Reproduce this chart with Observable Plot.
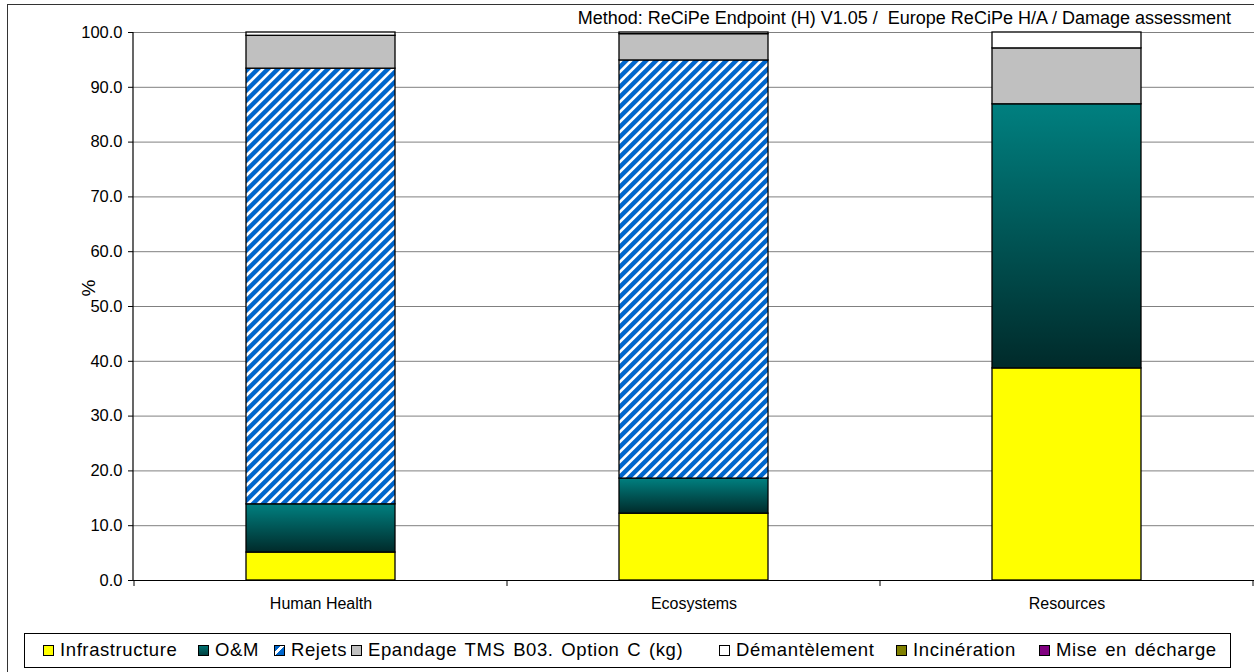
<!DOCTYPE html>
<html>
<head>
<meta charset="utf-8">
<script src="https://cdn.jsdelivr.net/npm/d3@7"></script>
<script src="https://cdn.jsdelivr.net/npm/@observablehq/plot@0.6"></script>
<style>
  body { margin: 0; background: #fff; font-family: "Liberation Sans", Arial, sans-serif; }
  #wrap { position: relative; width: 1254px; height: 672px; overflow: hidden; background: #fff; }
  #border { position: absolute; left: 7px; top: 4px; width: 1300px; height: 720px; border: 1px solid #333; }
  #chart { position: absolute; left: 0; top: 0; }
  #method { position: absolute; right: 23px; top: 8px; font-size: 18px; white-space: nowrap; color: #000; }
  #legend { position: absolute; left: 24px; top: 633px; width: 1207px; height: 35px; border: 1px solid #000; box-sizing: border-box; }
  .sw { position: absolute; top: 11px; width: 11px; height: 11px; border: 1px solid #000; box-sizing: border-box; }
  .lt { position: absolute; top: 5px; font-size: 18.5px; letter-spacing: 0.6px; word-spacing: 2px; white-space: nowrap; color: #000; }
</style>
</head>
<body>
<div id="wrap">
  <div id="border"></div>
  <div id="chart"></div>
  <div id="method">Method: ReCiPe Endpoint (H) V1.05 /&nbsp; Europe ReCiPe H/A / Damage assessment</div>
  <div id="legend"></div>
</div>
<script>
// ---- data ----
const categories = ["Human Health", "Ecosystems", "Resources"];
const series = ["Infrastructure", "O&M", "Rejets", "Epandage TMS B03. Option C (kg)", "Démantèlement", "Incinération", "Mise en décharge"];
const infrastructure = [5.1, 12.2, 38.7];
const om = [8.8, 6.4, 48.2];
const rejets = [79.5, 76.3, 0];
const epandage = [6.0, 4.8, 10.2];
const demantelement = [0.6, 0.3, 2.9];
const incineration = [0, 0, 0];
const miseEnDecharge = [0, 0, 0];
const yTicks = [0, 10, 20, 30, 40, 50, 60, 70, 80, 90, 100];

// ---- styles ----
const fills = ["#FFFF00", "url(#omGrad)", "url(#rejetsPat)", "#C0C0C0", "#FFFFFF", "#808000", "#800080"];
const swatchCss = [
  "#FFFF00",
  "linear-gradient(180deg, #007070, #004040)",
  "linear-gradient(135deg, #0066CC 0 30%, #ffffff 30% 52%, #0066CC 52%)",
  "#C0C0C0", "#FFFFFF", "#808000", "#800080"
];
const legendX = [42, 197, 273, 350, 718, 895, 1038];

const valuesBySeries = [infrastructure, om, rejets, epandage, demantelement, incineration, miseEnDecharge];
const data = [];
series.forEach((s, i) => {
  categories.forEach((c, j) => {
    const v = valuesBySeries[i][j];
    if (v > 0) data.push({ category: c, series: s, value: v });
  });
});

const W = 1254, H = 625, mL = 133, mR = 0, mT = 32, mB = 45;

const plot = Plot.plot({
  width: W, height: H,
  marginLeft: mL, marginRight: mR, marginTop: mT, marginBottom: mB,
  style: { fontFamily: "'Liberation Sans', Arial, sans-serif", fontSize: "16px", color: "#000", background: "transparent", overflow: "visible" },
  x: { domain: categories, paddingInner: 0.6, paddingOuter: 0.3, label: null },
  y: { domain: [0, 100], label: null },
  color: { type: "ordinal", domain: series, range: fills },
  marks: [
    Plot.gridY(yTicks, { stroke: "#808080", strokeOpacity: 1, strokeWidth: 1 }),
    Plot.barY(data, { x: "category", y: "value", fill: "series", stroke: "#000", strokeWidth: 1.3 }),
    Plot.ruleY([0], { stroke: "#000", strokeWidth: 1.2 }),
    Plot.axisY(yTicks, { tickFormat: d => d.toFixed(1), tickSize: 5, tickPadding: 6, fontSize: 16.5, stroke: "#000", label: null }),
    Plot.axisX({ tickSize: 0, tickPadding: 17, fontSize: 16, label: null }),
    Plot.text(["%"], { frameAnchor: "left", dx: -45, dy: -10, rotate: -90, fontSize: 19, fill: "#000" })
  ]
});

// defs: gradient & stripe pattern
const svg = d3.select(plot);
const defs = svg.insert("defs", ":first-child");
const g = defs.append("linearGradient").attr("id", "omGrad").attr("x1", 0).attr("y1", 0).attr("x2", 0).attr("y2", 1);
g.append("stop").attr("offset", 0).attr("stop-color", "#008080");
g.append("stop").attr("offset", 1).attr("stop-color", "#002A2A");
const p = defs.append("pattern").attr("id", "rejetsPat").attr("patternUnits", "userSpaceOnUse")
  .attr("width", 7.07).attr("height", 7.07).attr("patternTransform", "rotate(45)");
p.append("rect").attr("width", 7.07).attr("height", 7.07).attr("fill", "#0066CC");
p.append("rect").attr("width", 2.6).attr("height", 7.07).attr("fill", "#FFFFFF");

// axis line and category boundary ticks
const xs = plot.scale("x"), ys = plot.scale("y");
const y0 = ys.apply(0), y100 = ys.apply(100);
svg.append("line").attr("x1", mL).attr("x2", mL).attr("y1", y100).attr("y2", y0).attr("stroke", "#000").attr("stroke-width", 1.2);
const gap = (xs.step - xs.bandwidth) / 2;
const bounds = categories.map(c => xs.apply(c) - gap);
bounds.push(xs.apply(categories[categories.length - 1]) + xs.bandwidth + gap);
bounds.forEach(b => {
  svg.append("line").attr("x1", b).attr("x2", b).attr("y1", y0).attr("y2", y0 + 6).attr("stroke", "#000").attr("stroke-width", 1);
});

document.getElementById("chart").appendChild(plot);

// legend
const leg = document.getElementById("legend");
series.forEach((s, i) => {
  const sw = document.createElement("div");
  sw.className = "sw";
  sw.style.left = (legendX[i] - 24) + "px";
  sw.style.background = swatchCss[i];
  leg.appendChild(sw);
  const t = document.createElement("div");
  t.className = "lt";
  t.style.left = (legendX[i] - 24 + 17) + "px";
  t.textContent = s;
  leg.appendChild(t);
});
</script>
</body>
</html>
